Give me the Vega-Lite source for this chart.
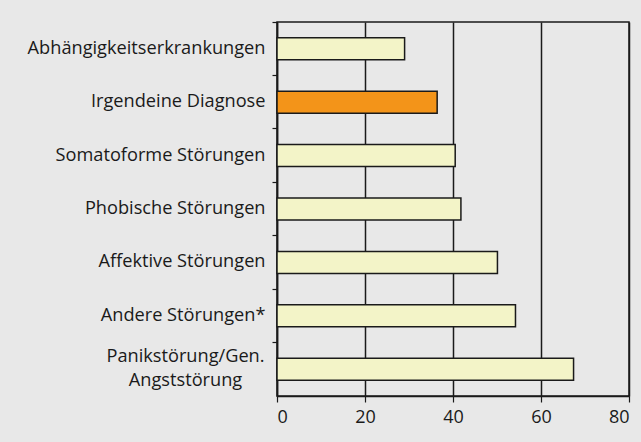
{
  "$schema": "https://vega.github.io/schema/vega-lite/v6.json",
  "autosize": "none",
  "width": 352,
  "height": 374,
  "padding": {"left": 277, "top": 22, "right": 12, "bottom": 46},
  "background": "#e8e8e8",
  "config": {
    "view": {"stroke": "#1a1a1a", "strokeWidth": 1.5, "fill": "#e8e8e8"},
    "font": "Open Sans"
  },
  "data": {
    "values": [
      {"kategorie": "Abhängigkeitserkrankungen", "wert": 29, "gruppe": "a"},
      {"kategorie": "Irgendeine Diagnose", "wert": 36.4, "gruppe": "b"},
      {"kategorie": "Somatoforme Störungen", "wert": 40.5, "gruppe": "a"},
      {"kategorie": "Phobische Störungen", "wert": 41.8, "gruppe": "a"},
      {"kategorie": "Affektive Störungen", "wert": 50.1, "gruppe": "a"},
      {"kategorie": "Andere Störungen*", "wert": 54.2, "gruppe": "a"},
      {"kategorie": "Panikstörung/Gen. Angststörung", "wert": 67.4, "gruppe": "a"}
    ]
  },
  "mark": {"type": "bar", "size": 22, "stroke": "#1a1a1a", "strokeWidth": 1.5},
  "encoding": {
    "y": {
      "field": "kategorie",
      "type": "nominal",
      "sort": null,
      "scale": {"paddingInner": 0, "paddingOuter": 0},
      "axis": {
        "title": null,
        "bandPosition": 0,
        "domainColor": "#1a1a1a",
        "domainWidth": 1.5,
        "tickColor": "#1a1a1a",
        "tickWidth": 1.2,
        "tickSize": 5,
        "labelPadding": {"condition": {"test": "datum.value == 'Panikstörung/Gen. Angststörung'", "value": 87}, "value": 7},
        "labelAlign": {"condition": {"test": "datum.value == 'Panikstörung/Gen. Angststörung'", "value": "center"}, "value": "right"},
        "labelOffset": {"condition": {"test": "datum.value == 'Panikstörung/Gen. Angststörung'", "value": -12}, "value": 0},
        "labelFontSize": 18.2,
        "labelColor": "#1a1a1a",
        "labelLineHeight": 24,
        "labelLimit": 300,
        "labelExpr": "datum.value == 'Panikstörung/Gen. Angststörung' ? ['Panikstörung/Gen.', 'Angststörung'] : datum.value"
      }
    },
    "x": {
      "field": "wert",
      "type": "quantitative",
      "scale": {"domain": [0, 80], "nice": false},
      "axis": {
        "title": null,
        "values": [0, 20, 40, 60, 80],
        "grid": true,
        "gridColor": "#1a1a1a",
        "gridWidth": 1.5,
        "gridOpacity": 1,
        "domainColor": "#1a1a1a",
        "domainWidth": 1.5,
        "tickColor": "#1a1a1a",
        "tickWidth": 1.2,
        "tickSize": 6,
        "labelPadding": 6,
        "labelFontSize": 18,
        "labelColor": "#1a1a1a"
      }
    },
    "fill": {
      "field": "gruppe",
      "type": "nominal",
      "scale": {"domain": ["a", "b"], "range": ["#f3f4c8", "#f39419"]},
      "legend": null
    }
  }
}
